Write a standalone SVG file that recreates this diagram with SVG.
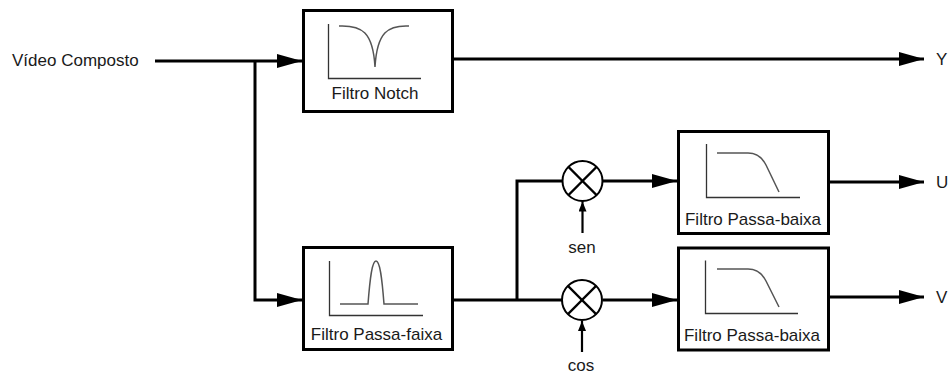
<svg xmlns="http://www.w3.org/2000/svg" width="948" height="374" viewBox="0 0 948 374">
<style>
  .box{fill:#fff;stroke:#000;stroke-width:3}
  .wire{fill:none;stroke:#000;stroke-width:3}
  .thin{fill:none;stroke:#000;stroke-width:2.2}
  .axis{fill:none;stroke:#333;stroke-width:1.3}
  .curve{fill:none;stroke:#555;stroke-width:1.5}
  .mix{fill:#fff;stroke:#000;stroke-width:2}
  text{font-family:"Liberation Sans",Arial,sans-serif;font-size:17px;fill:#1a1a1a}
  .c{text-anchor:middle}
</style>
<defs>
  <marker id="arr" markerUnits="userSpaceOnUse" markerWidth="25" markerHeight="14" refX="25" refY="7" orient="auto">
    <path d="M0,0 L25,7 L0,14 z" fill="#000"/>
  </marker>
  <marker id="arrs" markerUnits="userSpaceOnUse" markerWidth="8" markerHeight="10" refX="10" refY="4" orient="auto">
    <path d="M0,0 L10,4 L0,8 z" fill="#000"/>
  </marker>
</defs>

<g id="connectors">
  <line class="wire" x1="155" y1="61" x2="302" y2="61" marker-end="url(#arr)"/>
  <polyline class="wire" points="255,61 255,300 302,300" marker-end="url(#arr)"/>
  <line class="wire" x1="454" y1="59" x2="924" y2="59" marker-end="url(#arr)"/>
  <line class="wire" x1="454" y1="300" x2="562" y2="300"/>
  <polyline class="wire" points="517,300 517,181 562,181"/>
  <line class="wire" x1="603" y1="181" x2="677" y2="181" marker-end="url(#arr)"/>
  <line class="wire" x1="603" y1="300" x2="677" y2="300" marker-end="url(#arr)"/>
  <line class="wire" x1="830" y1="182" x2="924" y2="182" marker-end="url(#arr)"/>
  <line class="wire" x1="830" y1="297" x2="924" y2="297" marker-end="url(#arr)"/>
  <line class="thin" x1="582.5" y1="233" x2="582.5" y2="201.5" marker-end="url(#arrs)"/>
  <line class="thin" x1="582" y1="352" x2="582" y2="321" marker-end="url(#arrs)"/>
</g>

<g id="input-label"><text x="12" y="66">Vídeo Composto</text></g>

<g id="notch">
  <rect class="box" x="303.5" y="10.5" width="149" height="101"/>
  <polyline class="axis" points="328.5,24 328.5,78.5 421,78.5"/>
  <path class="curve" d="M339,26 C362,25 373,32 375,67 C377,32 388,25 409,26"/>
  <text class="c" x="375" y="99">Filtro Notch</text>
</g>

<g id="bandpass">
  <rect class="box" x="303.5" y="247.5" width="149" height="102"/>
  <polyline class="axis" points="329.5,261 329.5,315.5 423,315.5"/>
  <path class="curve" d="M340,304 L368,304 C370,278 372,261 376,261 C380,261 382,278 384,304 L418,304"/>
  <text class="c" x="376.5" y="340">Filtro Passa-faixa</text>
</g>

<g id="mixer-sen">
  <circle class="mix" cx="582.5" cy="181" r="20"/>
  <line class="thin" x1="568.4" y1="166.9" x2="596.6" y2="195.1"/>
  <line class="thin" x1="596.6" y1="166.9" x2="568.4" y2="195.1"/>
  <text class="c" x="582" y="253">sen</text>
</g>

<g id="mixer-cos">
  <circle class="mix" cx="582" cy="300" r="20"/>
  <line class="thin" x1="567.9" y1="285.9" x2="596.1" y2="314.1"/>
  <line class="thin" x1="596.1" y1="285.9" x2="567.9" y2="314.1"/>
  <text class="c" x="581" y="371">cos</text>
</g>

<g id="lowpass-u">
  <rect class="box" x="678.5" y="131.5" width="150" height="102"/>
  <polyline class="axis" points="706.5,144 706.5,197.5 800,197.5"/>
  <path class="curve" d="M717,153 L748,153 Q760,153 766,165 L779,192"/>
  <text class="c" x="753" y="225">Filtro Passa-baixa</text>
</g>

<g id="lowpass-v">
  <rect class="box" x="678.5" y="248" width="150" height="102"/>
  <polyline class="axis" points="705.5,260.5 705.5,313.5 798,313.5"/>
  <path class="curve" d="M717,269 L748,269 Q760,269 766,281 L779,307"/>
  <text class="c" x="752" y="340.5">Filtro Passa-baixa</text>
</g>

<g id="outputs">
  <text x="936" y="65">Y</text>
  <text x="936" y="188">U</text>
  <text x="936" y="303">V</text>
</g>
</svg>
